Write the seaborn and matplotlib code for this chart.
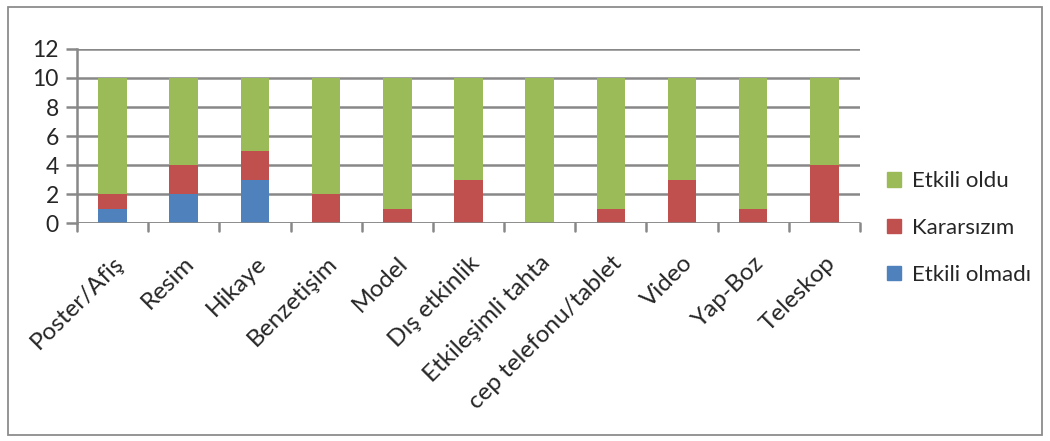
import matplotlib
matplotlib.use("Agg")
import matplotlib.pyplot as plt
import seaborn as sns
import numpy as np
import pandas as pd
from matplotlib.patches import Rectangle, Patch

categories = ["Poster/Afiş", "Resim", "Hikaye", "Benzetişim", "Model", "Dış etkinlik",
              "Etkileşimli tahta", "cep telefonu/tablet", "Video", "Yap-Boz", "Teleskop"]
etkili_olmadi = [1, 2, 3, 0, 0, 0, 0, 0, 0, 0, 0]
kararsizim = [1, 2, 2, 2, 1, 3, 0, 1, 3, 1, 4]
etkili_oldu = [8, 6, 5, 8, 9, 7, 10, 9, 7, 9, 6]
y_ticks = [0, 2, 4, 6, 8, 10, 12]

sns.set_style("white")
plt.rcParams["font.family"] = ["Lato", "DejaVu Sans"]

df = pd.DataFrame({"cat": categories, "a": etkili_olmadi, "b": kararsizim, "c": etkili_oldu})
bottom_b = np.array(etkili_olmadi)
bottom_c = bottom_b + np.array(kararsizim)

fig = plt.figure(figsize=(10.5, 4.41), dpi=100)
ax = fig.add_axes([0.0733, 0.494, 0.7457, 0.395])

grid_c = "#888888"
for t in y_ticks:
    ax.axhline(t, color=grid_c, lw=1.8, zorder=0)

c_blue, c_red, c_green = "#4f81bd", "#c0504d", "#9bbb59"
kw = dict(width=0.4, ax=ax, saturation=1, zorder=2, linewidth=0, edgecolor="none")
sns.barplot(data=df, x="cat", y="a", color=c_blue, **kw)
sns.barplot(data=df, x="cat", y="b", color=c_red, bottom=bottom_b, **kw)
sns.barplot(data=df, x="cat", y="c", color=c_green, bottom=bottom_c, **kw)

fs = 16.5
ax.set_xlim(-0.5, len(categories) - 0.5)
ax.set_ylim(0, 12)
ax.set_yticks(y_ticks)
ax.set_yticklabels([str(t) for t in y_ticks], fontsize=fs)
ax.set_xlabel("")
ax.set_ylabel("")
ax.set_xticks(range(len(categories)))
ax.set_xticklabels(categories, rotation=45, ha="right", rotation_mode="anchor", fontsize=17.5)
ax.tick_params(axis="x", length=0, pad=21)
ax.tick_params(axis="y", length=8, width=1.8, color=grid_c, pad=5, direction="out", left=True)

# category boundary ticks
for b in np.arange(-0.5, len(categories), 1.0):
    ax.plot([b, b], [0, -0.55], color=grid_c, lw=1.8, clip_on=False, zorder=3)

for s in ["top", "right"]:
    ax.spines[s].set_visible(False)
ax.spines["bottom"].set_visible(False)
ax.spines["left"].set_color(grid_c)
ax.spines["left"].set_linewidth(1.8)
ax.axhline(0, color=grid_c, lw=1.8, zorder=3)

handles = [Patch(color=c_green, label="Etkili oldu"),
           Patch(color=c_red, label="Kararsızım"),
           Patch(color=c_blue, label="Etkili olmadı")]
fig.legend(handles=handles, loc="center left", bbox_to_anchor=(0.826, 0.483),
           frameon=False, fontsize=16, handlelength=0.6, handleheight=0.6,
           handletextpad=0.5, labelspacing=1.2)

fig.patches.append(Rectangle((8 / 1050, 6 / 441), 1034 / 1050, 428 / 441,
                             transform=fig.transFigure, fill=False,
                             edgecolor="#8c8c8c", lw=1.3))

fig.savefig("out.png", dpi=100)
